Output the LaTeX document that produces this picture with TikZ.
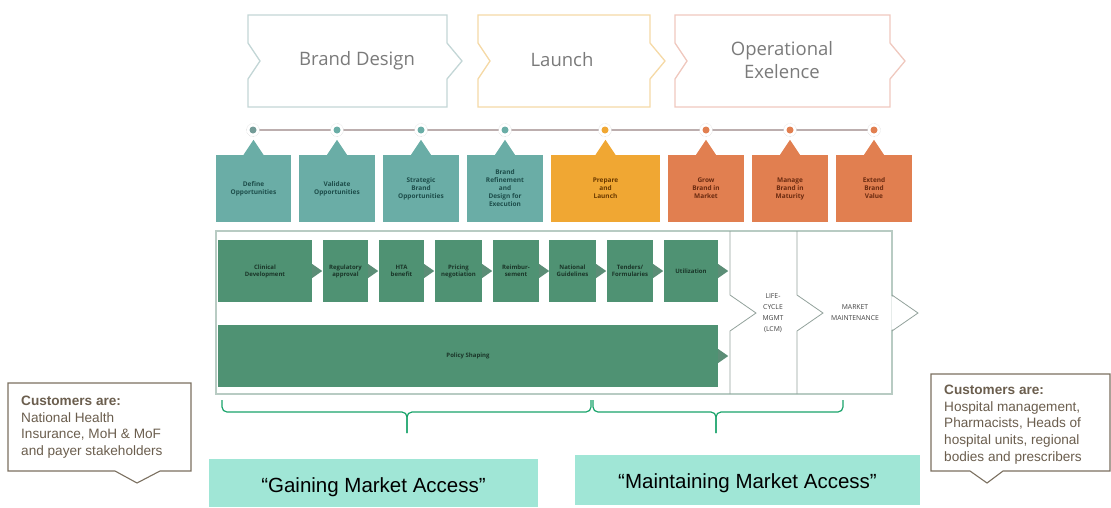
\documentclass[tikz,border=0pt]{standalone}
\usepackage{fontspec}
\setmainfont{Liberation Sans}
\newfontfamily\osans{Open Sans}
\usetikzlibrary{calc}
\definecolor{cteal}{HTML}{6AADA6}
\definecolor{corange}{HTML}{F0A733}
\definecolor{csalmon}{HTML}{E17F50}
\definecolor{cgreen}{HTML}{4F9273}
\definecolor{ctealtxt}{HTML}{1D4D4A}
\definecolor{corangetxt}{HTML}{6B3A00}
\definecolor{csalmontxt}{HTML}{6A2A10}
\definecolor{cgreentxt}{HTML}{1A3528}
\definecolor{caqua}{HTML}{A0E6D6}
\definecolor{cbrace}{HTML}{19A36A}
\definecolor{ccall}{HTML}{7B7060}
\definecolor{ccalltxt}{HTML}{6B5E4E}
\definecolor{cframe}{HTML}{B8CBC3}
\definecolor{cline}{HTML}{BCAEAE}
\definecolor{cchevA}{HTML}{C3D6D6}
\definecolor{cchevB}{HTML}{F5D9A6}
\definecolor{cchevC}{HTML}{EFC8BE}
\tikzset{
  chevtxt/.style={font=\osans\fontsize{18.5}{23}\selectfont, text=black!52, align=center},
  stagebox/.style={minimum width=#1, minimum height=67pt, inner sep=1pt, align=center,
     font=\osans\bfseries\fontsize{6.5}{8}\selectfont},
  gbox/.style={fill=cgreen, minimum width=#1, minimum height=62pt, inner sep=1pt, align=center,
     text=cgreentxt, font=\osans\bfseries\fontsize{6}{7}\selectfont},
  gtip/.style={fill=cgreen!75!gray},
  dotc/.style={circle, inner sep=0pt, minimum size=7pt},
  ring/.style={circle, draw=black!25, densely dotted, inner sep=0pt, minimum size=13pt},
  bracestyle/.style={draw=cbrace, line width=1.2pt, rounded corners=5pt},
  callout/.style={draw=ccall, line width=1.1pt, fill=white},
  calltext/.style={anchor=north west, align=left, inner sep=0pt, text=ccalltxt,
     font=\fontsize{13.6}{16.6}\selectfont},
  quotetxt/.style={inner sep=0pt, font=\fontsize{20.5}{24}\selectfont},
  lcmtxt/.style={align=center, text=black!75, font=\osans\fontsize{6.8}{11}\selectfont}
}
\begin{document}
\begin{tikzpicture}[x=1pt,y=-1pt]
\useasboundingbox (0,0) rectangle (1111,507);
% top chevrons
\foreach \xa/\xb/\col in {248/447/cchevA, 478/650/cchevB, 675/890/cchevC}{
  \draw[\col, line width=1.3pt] (\xa,15) -- (\xb,15) -- (\xb,43) -- (\xb+15,61) -- (\xb,79) -- (\xb,107)
     -- (\xa,107) -- (\xa,79) -- (\xa+12,61) -- (\xa,43) -- cycle;
}
\node[chevtxt] (bd) at (357,61) {Brand Design};
\node[chevtxt] (la) at (562,60) {Launch};
\node[chevtxt] (oe) at (782,60) {Operational\\Exelence};
% timeline
\coordinate (tl0) at (253,130);
\coordinate (tl1) at (874,130);
\draw[cline, line width=1.5pt] (tl0) -- (tl1);
\foreach \x/\c [count=\i] in {253/cteal!60!gray, 337/cteal, 421/cteal, 505/cteal, 605/corange, 706/csalmon, 790/csalmon, 874/csalmon}{
  \node[ring, fill=white] (r\i) at (\x,130) {};
  \node[dotc, fill=\c] (d\i) at (\x,130) {};
}
% stage boxes
\foreach \x/\w/\c/\t/\txt [count=\i] in {
  253.5/75/cteal/ctealtxt/{Define\\Opportunities},
  337/76/cteal/ctealtxt/{Validate\\Opportunities},
  421/76/cteal/ctealtxt/{Strategic\\Brand\\Opportunities},
  505/76/cteal/ctealtxt/{Brand\\Refinement\\and\\Design for\\Execution},
  605.5/109/corange/corangetxt/{Prepare\\and\\Launch},
  706/76/csalmon/csalmontxt/{Grow\\Brand in\\Market},
  790/76/csalmon/csalmontxt/{Manage\\Brand in\\Maturity},
  874/76/csalmon/csalmontxt/{Extend\\Brand\\Value}}{
  \node[stagebox=\w pt, fill=\c, text=\t] (s\i) at (\x,188.5) {\txt};
  \fill[\c] ([xshift=-10pt]s\i.north) -- ([xshift=10pt]s\i.north) -- ([yshift=15pt]s\i.north) -- cycle;
}
% container frame
\draw[cframe, line width=1.4pt] (216,231) rectangle (892,394);
\draw[cframe!80!black, line width=0.8pt] (730,231) -- (730,295) -- (756,313) -- (730,331) -- (730,394);
\draw[cframe!80!black, line width=0.8pt] (797,231) -- (797,295) -- (823,313) -- (797,331) -- (797,394);
\fill[white] (891.3,296) -- (918,313) -- (891.3,330) -- cycle;
\draw[cframe!80!black, line width=0.8pt] (892,295) -- (918,313) -- (892,331);
\node[lcmtxt] (lcm) at (773,313) {LIFE-\\CYCLE\\MGMT\\(LCM)};
\node[lcmtxt] (mm) at (855,313) {MARKET\\MAINTENANCE};
% green process row
\foreach \x/\w/\txt [count=\i] in {
  265/94/{Clinical\\Development},
  345.5/45/{Regulatory\\approval},
  401.5/45/{HTA\\benefit},
  458.5/47/{Pricing\\negotiation},
  516/46/{Reimbur-\\sement},
  572.5/47/{National\\Guidelines},
  630/46/{Tenders/\\Formularies},
  691/54/{Utilization}}{
  \node[gbox=\w pt] (g\i) at (\x,271) {\txt};
  \fill[gtip] ([yshift=7pt]g\i.east) -- ([xshift=10pt]g\i.east) -- ([yshift=-7pt]g\i.east) -- cycle;
}
\node[gbox=500pt] (ps) at (468,356) {Policy Shaping};
\fill[gtip] ([yshift=7pt]ps.east) -- ([xshift=10pt]ps.east) -- ([yshift=-7pt]ps.east) -- cycle;
% braces
\coordinate (bt1) at (407,433);
\coordinate (bt2) at (716,433);
\draw[bracestyle] (222,400) -- (222,412) -- (407,412) -- (bt1);
\draw[bracestyle] (591,400) -- (591,412) -- (407,412) -- (bt1);
\draw[bracestyle] (593,400) -- (593,412) -- (716,412) -- (bt2);
\draw[bracestyle] (843,400) -- (843,412) -- (716,412) -- (bt2);
% quote boxes
\fill[caqua] (209,459) rectangle (538,507);
\node[quotetxt] (gma) at (373.5,487) {“Gaining Market Access”};
\fill[caqua] (575,455) rectangle (920,505);
\node[quotetxt] (mma) at (747.5,483) {“Maintaining Market Access”};
% callouts
\draw[callout] (8,383) -- (191,383) -- (191,471) -- (160,471) -- (137,483) -- (115,471) -- (8,471) -- cycle;
\node[calltext] (lct) at (21,396) {\textbf{Customers are:}\\National Health\\Insurance, MoH \& MoF\\and payer stakeholders};
\draw[callout] (931,374) -- (1110,374) -- (1110,471) -- (1003,471) -- (987,483) -- (970,471) -- (931,471) -- cycle;
\node[calltext] (rct) at (944,385) {\textbf{Customers are:}\\Hospital management,\\Pharmacists, Heads of\\hospital units, regional\\bodies and prescribers};
\end{tikzpicture}
\end{document}
